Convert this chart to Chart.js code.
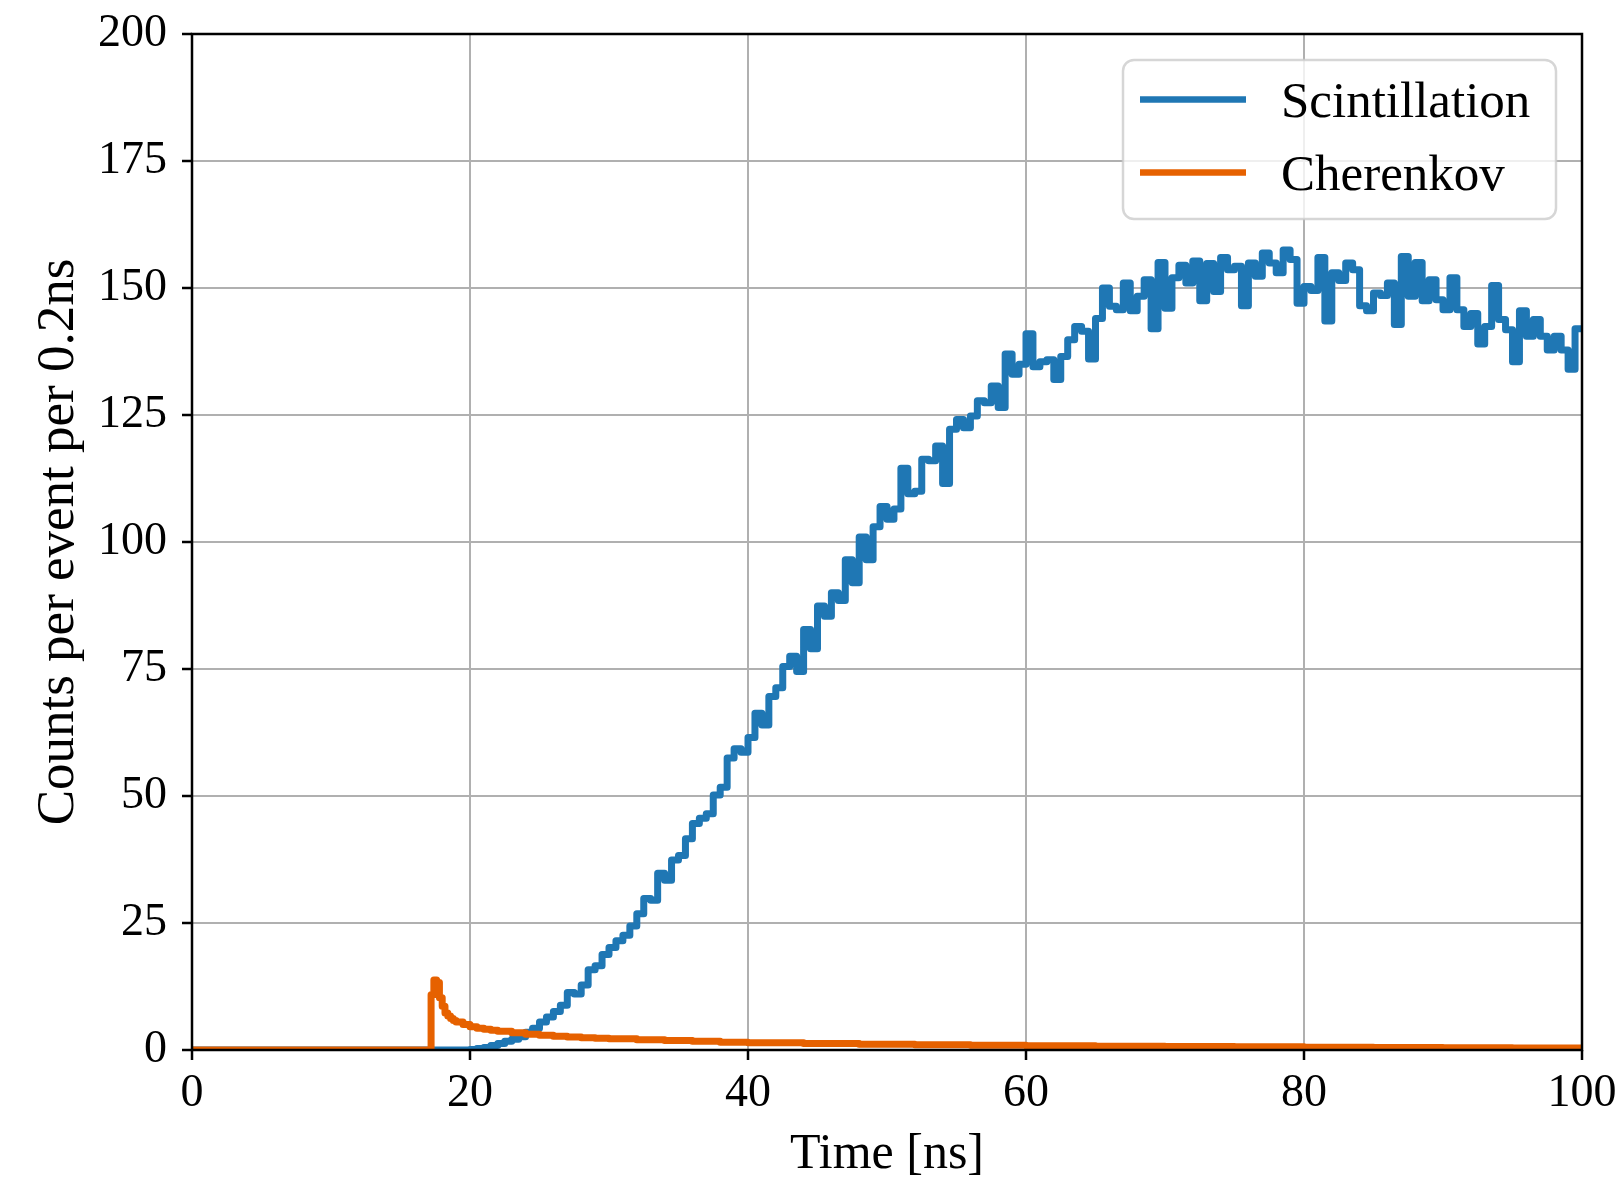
<!DOCTYPE html>
<html>
<head>
<meta charset="utf-8">
<script src="https://cdn.jsdelivr.net/npm/chart.js@4.4.1/dist/chart.umd.min.js"></script>
<style>
  html, body { margin: 0; padding: 0; background: #fff; }
  #wrap { width: 1624px; height: 1186px; }
</style>
</head>
<body>
<div id="wrap"><canvas id="timeChart" width="1624" height="1186"></canvas></div>
<script>
// scintillation: counts per 0.5 ns bin, bins start at 20 ns (zero before)
const scintFirstBin = 20;
const scintBinWidth = 0.5;
const scintCounts = [
  0.1, 0.3, 0.5, 0.9, 1.3, 1.7, 2.1, 2.6, 3.5, 4.3,
  5.5, 6.5, 7.6, 8.8, 11.3, 11.0, 12.8, 15.8, 16.6, 18.8,
  20.2, 21.5, 22.6, 24.4, 26.8, 29.8, 29.5, 34.8, 33.4, 37.4,
  38.3, 41.6, 44.6, 45.6, 46.5, 50.2, 51.7, 57.5, 59.3, 58.6,
  61.5, 66.3, 64.0, 69.6, 71.3, 75.5, 77.5, 74.5, 82.8, 79.0,
  87.4, 85.4, 90.0, 88.5, 96.5, 92.0, 101.0, 96.5, 103.0, 107.0,
  104.5, 106.5, 114.5, 109.5, 110.0, 116.3, 116.0, 118.9, 111.5, 122.2,
  124.1, 122.5, 124.8, 127.8, 127.4, 130.7, 126.5, 137.0, 133.0, 135.0,
  141.0, 134.5, 135.5, 135.9, 132.0, 136.5, 139.8, 142.4, 141.5, 136.0,
  144.0, 150.0, 146.4, 145.7, 151.0, 145.5, 148.4, 151.6, 142.0, 155.0,
  146.0, 152.0, 154.5, 151.0, 155.3, 147.5, 154.8, 149.3, 156.0, 153.6,
  154.3, 146.5, 154.9, 152.3, 156.9, 154.9, 153.0, 157.5, 155.6, 147.0,
  150.3, 149.5, 156.0, 143.5, 153.0, 151.5, 154.9, 153.6, 146.5, 145.5,
  149.0, 148.5, 151.0, 142.8, 156.2, 148.4, 155.0, 147.5, 151.6, 147.7,
  145.7, 152.0, 145.7, 142.4, 145.0, 139.0, 142.4, 150.5, 143.8, 141.8,
  135.5, 145.5, 140.5, 143.8, 140.5, 137.8, 140.5, 137.8, 134.0, 142.0
];

// cherenkov: bin left edges [ns] and counts
const cherenkovTime = [
  0, 17.2, 17.4, 17.6, 17.8, 18.0, 18.2, 18.4, 18.6, 18.8,
  19.0, 19.5, 20, 20.5, 21, 21.5, 22, 23, 24, 25,
  26, 27, 28, 29, 30, 32, 34, 36, 38, 40,
  44, 48, 52, 56, 60, 65, 70, 75, 80, 85,
  90, 95, 100
];
const cherenkovCounts = [
  0, 10.9, 13.8, 13.3, 10.3, 8.6, 7.3, 6.7, 6.2, 5.8,
  5.5, 5.0, 4.6, 4.3, 4.1, 3.9, 3.7, 3.4, 3.1, 2.9,
  2.7, 2.55, 2.4, 2.3, 2.2, 2.0, 1.85, 1.7, 1.55, 1.45,
  1.3, 1.15, 1.05, 0.95, 0.85, 0.75, 0.68, 0.62, 0.56, 0.5,
  0.45, 0.4, 0.35
];

const xTicks = [0, 20, 40, 60, 80, 100];
const yTicks = [0, 25, 50, 75, 100, 125, 150, 175, 200];

const seriesNames = ["Scintillation", "Cherenkov"];
const seriesColors = ["#1f77b4", "#e66100"];

const serif = "'Liberation Serif', 'DejaVu Serif', serif";

function scintPoints() {
  const pts = [{ x: 0, y: 0 }];
  scintCounts.forEach((c, i) => pts.push({ x: scintFirstBin + i * scintBinWidth, y: c }));
  pts.push({ x: 100, y: scintCounts[scintCounts.length - 1] });
  return pts;
}

function cherenkovPoints() {
  return cherenkovTime.map((t, i) => ({ x: t, y: cherenkovCounts[i] }));
}

// frame on top of the lines, like matplotlib spines
const framePlugin = {
  id: "frame",
  afterDatasetsDraw(chart) {
    const { ctx, chartArea: a } = chart;
    ctx.save();
    ctx.strokeStyle = "#000";
    ctx.lineWidth = 2.5;
    ctx.strokeRect(a.left, a.top, a.right - a.left, a.bottom - a.top);
    ctx.restore();
  }
};

// matplotlib-style legend box in the upper right
const legendPlugin = {
  id: "boxLegend",
  afterDraw(chart) {
    const ctx = chart.ctx;
    const x = 1123, y = 60, w = 433, h = 159, r = 11;
    ctx.save();
    ctx.beginPath();
    ctx.roundRect(x, y, w, h, r);
    ctx.fillStyle = "rgba(255,255,255,0.8)";
    ctx.fill();
    ctx.lineWidth = 2.5;
    ctx.strokeStyle = "rgba(204,204,204,0.8)";
    ctx.stroke();

    ctx.font = "51px " + serif;
    ctx.textBaseline = "alphabetic";
    ctx.textAlign = "left";
    chart.data.datasets.forEach((ds, i) => {
      const ly = 99.5 + i * 73;
      ctx.beginPath();
      ctx.moveTo(1140, ly);
      ctx.lineTo(1246, ly);
      ctx.strokeStyle = ds.borderColor;
      ctx.lineWidth = 6.5;
      ctx.lineCap = "butt";
      ctx.stroke();
      ctx.fillStyle = "#000";
      ctx.fillText(ds.label, 1281, ly + 17);
    });
    ctx.restore();
  }
};

const ctx = document.getElementById("timeChart").getContext("2d");

new Chart(ctx, {
  type: "line",
  data: {
    datasets: [
      {
        label: seriesNames[0],
        data: scintPoints(),
        borderColor: seriesColors[0],
        borderWidth: 7,
        stepped: true,
        pointRadius: 0,
        borderJoinStyle: "round",
        fill: false,
        order: 1
      },
      {
        label: seriesNames[1],
        data: cherenkovPoints(),
        borderColor: seriesColors[1],
        borderWidth: 7,
        stepped: true,
        pointRadius: 0,
        borderJoinStyle: "round",
        fill: false,
        order: 0
      }
    ]
  },
  options: {
    responsive: false,
    animation: false,
    devicePixelRatio: 1,
    layout: { padding: { top: 34, right: 42, left: 0, bottom: 0 } },
    plugins: {
      legend: { display: false },
      tooltip: { enabled: false }
    },
    scales: {
      x: {
        type: "linear",
        min: 0,
        max: 100,
        afterBuildTicks: s => { s.ticks = xTicks.map(v => ({ value: v })); },
        afterFit: s => { s.height = 136; s.paddingLeft = 0; s.paddingRight = 0; },
        ticks: { font: { family: serif, size: 46 }, color: "#000", padding: 6, maxRotation: 0 },
        grid: { color: "#b0b0b0", lineWidth: 2, tickColor: "#000", tickWidth: 2.5, tickLength: 10 },
        border: { display: false },
        title: {
          display: true,
          text: "Time [ns]",
          color: "#000",
          font: { family: serif, size: 50, lineHeight: 1.2 },
          padding: { top: 0, bottom: 1 }
        }
      },
      y: {
        min: 0,
        max: 200,
        afterBuildTicks: s => { s.ticks = yTicks.map(v => ({ value: v })); },
        afterFit: s => { s.width = 192; s.paddingTop = 0; s.paddingBottom = 0; },
        ticks: { font: { family: serif, size: 46 }, color: "#000", padding: 15 },
        grid: { color: "#b0b0b0", lineWidth: 2, tickColor: "#000", tickWidth: 2.5, tickLength: 10 },
        border: { display: false },
        title: {
          display: true,
          text: "Counts per event per 0.2ns",
          color: "#000",
          font: { family: serif, size: 53, lineHeight: 1.2 },
          padding: { top: 27, bottom: 0 }
        }
      }
    }
  },
  plugins: [framePlugin, legendPlugin]
});
</script>
</body>
</html>
